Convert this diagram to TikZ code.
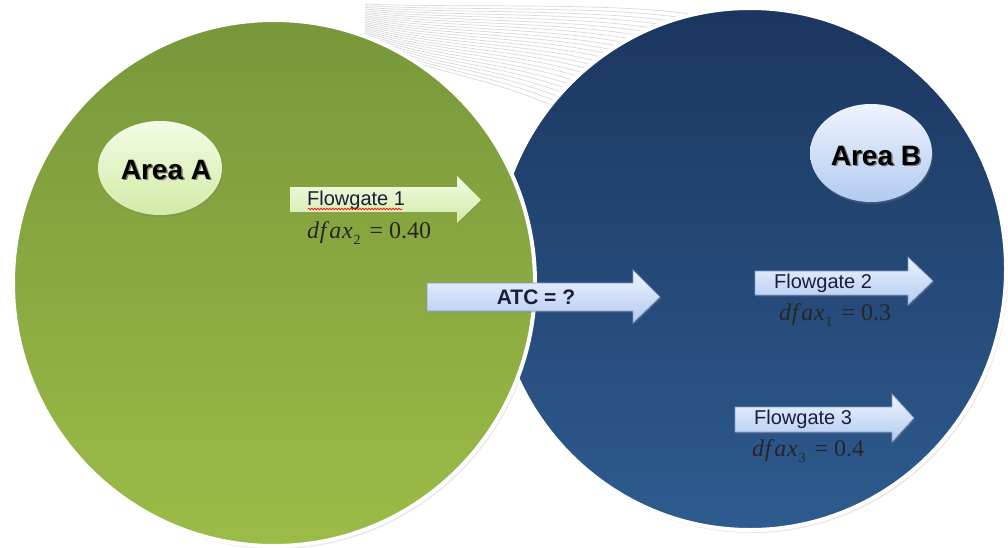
\documentclass[tikz,border=0pt]{standalone}
\usepackage{fontspec}
\setmainfont{Liberation Sans}
\newfontfamily\tmsfont{Liberation Serif}
\usetikzlibrary{shadows,decorations.pathmorphing}
\definecolor{grnT}{HTML}{78973A}
\definecolor{grnB}{HTML}{9CBC48}
\definecolor{bluT}{HTML}{1B365F}
\definecolor{bluB}{HTML}{2E5B8F}
\definecolor{lgrT}{HTML}{F3FCE6}
\definecolor{lgrB}{HTML}{D2EBA6}
\definecolor{lblT}{HTML}{EEF4FE}
\definecolor{lblB}{HTML}{B2CAF0}
\definecolor{arrBorder}{HTML}{7F9BCB}
\definecolor{txtDark}{HTML}{1C1C3C}
\newcommand\dfx[2]{{\itshape d\kern0.6pt f\kern2.8pt a\kern0.8pt x}\kern0.8pt\raisebox{-0.28em}{\fontsize{14}{14}\selectfont #1}\hspace{9pt}=\hspace{6pt}#2}
\tikzset{
  bigcircle/.style={draw=white, line width=4pt, drop shadow={opacity=0.18, shadow xshift=2pt, shadow yshift=-3pt}},
  greenarrow/.style={top color=lgrT, bottom color=lgrB, drop shadow={opacity=0.25, shadow xshift=1.5pt, shadow yshift=-1.5pt}},
  bluearrow/.style={draw=arrBorder, line width=0.7pt, top color=lblT, bottom color=lblB, drop shadow={opacity=0.25, shadow xshift=1.5pt, shadow yshift=-1.5pt}},
  gatetext/.style={anchor=west, inner sep=0pt, text=txtDark, font=\fontsize{20}{24}\selectfont},
  mathtext/.style={anchor=west, inner sep=0pt, text=black!85, font=\tmsfont\fontsize{24}{28}\selectfont},
  arealabel/.style={inner sep=0pt, font=\bfseries\fontsize{28}{32}\selectfont},
  areashadow/.style={inner sep=0pt, font=\bfseries\fontsize{28}{32}\selectfont, text=black!70!brown, opacity=0.55},
  fanline/.style={gray!30, line width=0.7pt}
}
\begin{document}
\begin{tikzpicture}[x=1pt,y=-1pt]
\useasboundingbox (0,0) rectangle (1008,548);
\fill[white] (0,0) rectangle (1008,548);
% decorative fan of lines
\foreach \i in {0,...,24}{
  \pgfmathsetmacro\t{\i/24}
  \draw[fanline] ({365},{4+40*\t}) .. controls +({80},{4+30*\t}) and +({-80},{-12-30*\t}) .. ({690-110*\t},{14+105*\t});
}
% big circles
\path[bigcircle, top color=bluT, bottom color=bluB] (750,269) ellipse [x radius=256, y radius=261];
\path[bigcircle, top color=grnT, bottom color=grnB] (274,283) ellipse [x radius=261, y radius=263];
% area ellipses
\path[top color=lgrT, bottom color=lgrB, drop shadow={opacity=0.3, shadow xshift=1pt, shadow yshift=-2pt}] (160,168) ellipse [x radius=62, y radius=47];
\path[top color=lblT, bottom color=lblB, drop shadow={opacity=0.3, shadow xshift=1pt, shadow yshift=-2pt}] (871,153) ellipse [x radius=61, y radius=49];
\node[areashadow] at (167.5,171.5) {Area A};
\node[arealabel] (areaA) at (166,170) {Area A};
\node[areashadow] at (877.5,157.5) {Area B};
\node[arealabel] (areaB) at (876,156) {Area B};
% flowgate 1 arrow
\path[greenarrow] (290,187) -- (457,187) -- (457,176) -- (481,200) -- (457,223) -- (457,212) -- (290,212) -- cycle;
\node[gatetext] (fg1) at (307,200) {Flowgate 1};
\draw[red, line width=0.7pt, decorate, decoration={snake, amplitude=0.8pt, segment length=3pt}] (308,209) -- (402,209);
\node[mathtext] (d2) at (307,233) {\dfx{2}{0.40}};
% ATC arrow
\path[bluearrow] (427,283) -- (633,283) -- (633,270) -- (660,297) -- (633,323) -- (633,311) -- (427,311) -- cycle;
\node[inner sep=0pt, text=txtDark, font=\bfseries\fontsize{21}{24}\selectfont] (atc) at (536,297) {ATC = ?};
% flowgate 2 arrow
\path[bluearrow] (755,271) -- (908,271) -- (908,257) -- (933,281) -- (908,305) -- (908,295) -- (755,295) -- cycle;
\node[gatetext] (fg2) at (774,283) {Flowgate 2};
\node[mathtext] (d1) at (779,315) {\dfx{1}{0.3}};
% flowgate 3 arrow
\path[bluearrow] (735,407) -- (892,407) -- (892,394) -- (914,418) -- (892,442) -- (892,432) -- (735,432) -- cycle;
\node[gatetext] (fg3) at (754,419) {Flowgate 3};
\node[mathtext] (d3) at (752,451) {\dfx{3}{0.4}};
\end{tikzpicture}
\end{document}
